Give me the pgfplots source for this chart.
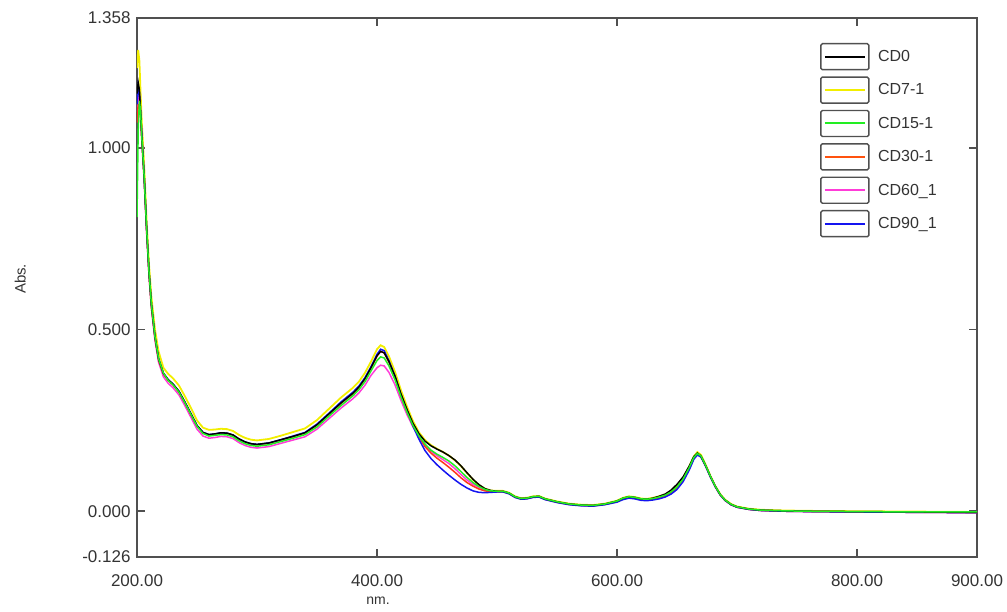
\documentclass[border=0pt]{standalone}
\usepackage{pgfplots}
\pgfplotsset{compat=1.18}
\usepackage{pgfplotstable}
\usepackage{fontspec}
\setmainfont{Liberation Sans}

\definecolor{axgray}{HTML}{505050}
\definecolor{cdyellow}{HTML}{F2EE00}
\definecolor{cdgreen}{HTML}{22EE22}
\definecolor{cdred}{HTML}{FF3418}
\definecolor{cdpink}{HTML}{FF3CD8}
\definecolor{cdblue}{HTML}{1414F0}

\pgfplotstableread{
nm cd0 cd7 cd15 cd30 cd60 cd90
200 1.15 1.22 0.81 1.07 1.10 1.12
201 1.18 1.27 1.05 1.12 1.14 1.17
202 1.16 1.24 1.13 1.12 1.13 1.15
203 1.10 1.15 1.10 1.08 1.09 1.10
204 1.03 1.07 1.03 1.02 1.03 1.04
206 0.92 0.95 0.92 0.91 0.92 0.92
208 0.78 0.80 0.78 0.77 0.77 0.78
210 0.66 0.68 0.66 0.65 0.65 0.66
212 0.57 0.59 0.57 0.56 0.56 0.57
215 0.48 0.50 0.48 0.475 0.47 0.48
218 0.42 0.44 0.42 0.415 0.41 0.42
222 0.38 0.395 0.38 0.378 0.37 0.38
226 0.362 0.378 0.36 0.36 0.352 0.362
230 0.35 0.366 0.348 0.348 0.34 0.35
235 0.33 0.346 0.328 0.328 0.32 0.33
240 0.30 0.316 0.298 0.298 0.29 0.30
245 0.268 0.284 0.266 0.266 0.258 0.268
250 0.236 0.25 0.234 0.235 0.226 0.236
255 0.217 0.23 0.214 0.216 0.207 0.217
260 0.211 0.224 0.207 0.21 0.201 0.211
265 0.213 0.225 0.209 0.212 0.203 0.213
270 0.216 0.227 0.211 0.215 0.206 0.216
275 0.215 0.226 0.21 0.214 0.205 0.215
280 0.21 0.221 0.205 0.209 0.2 0.21
285 0.199 0.21 0.194 0.198 0.189 0.199
290 0.191 0.202 0.186 0.19 0.181 0.191
295 0.186 0.197 0.181 0.185 0.176 0.186
300 0.184 0.195 0.179 0.183 0.174 0.184
310 0.188 0.199 0.183 0.187 0.178 0.188
320 0.197 0.208 0.192 0.196 0.187 0.197
330 0.206 0.218 0.201 0.205 0.196 0.207
340 0.216 0.228 0.211 0.215 0.205 0.217
350 0.238 0.251 0.232 0.237 0.226 0.24
360 0.268 0.282 0.262 0.267 0.255 0.27
370 0.298 0.313 0.291 0.297 0.284 0.301
380 0.325 0.34 0.318 0.324 0.31 0.328
385 0.342 0.357 0.335 0.341 0.326 0.345
390 0.365 0.381 0.357 0.364 0.347 0.368
395 0.395 0.412 0.386 0.394 0.374 0.398
400 0.428 0.446 0.415 0.427 0.395 0.432
403 0.44 0.457 0.425 0.44 0.402 0.446
406 0.436 0.452 0.422 0.436 0.4 0.442
410 0.412 0.426 0.4 0.41 0.382 0.414
415 0.372 0.384 0.362 0.368 0.348 0.372
420 0.323 0.333 0.315 0.318 0.305 0.32
425 0.28 0.288 0.273 0.275 0.266 0.276
430 0.242 0.248 0.236 0.236 0.232 0.234
435 0.213 0.217 0.207 0.205 0.205 0.198
440 0.193 0.196 0.185 0.178 0.182 0.167
445 0.18 0.182 0.168 0.16 0.165 0.145
450 0.171 0.172 0.157 0.146 0.153 0.128
455 0.163 0.163 0.148 0.134 0.142 0.113
460 0.153 0.153 0.138 0.121 0.131 0.099
465 0.141 0.14 0.125 0.107 0.117 0.086
470 0.125 0.124 0.109 0.092 0.101 0.074
475 0.106 0.105 0.093 0.079 0.086 0.064
480 0.088 0.087 0.079 0.069 0.074 0.056
485 0.073 0.072 0.068 0.061 0.065 0.052
490 0.062 0.062 0.06 0.056 0.058 0.051
495 0.057 0.057 0.056 0.054 0.055 0.052
500 0.055 0.056 0.055 0.054 0.054 0.053
505 0.055 0.056 0.055 0.054 0.054 0.053
510 0.05 0.051 0.05 0.049 0.049 0.048
515 0.04 0.041 0.04 0.039 0.039 0.038
520 0.035 0.036 0.035 0.034 0.034 0.033
525 0.036 0.037 0.036 0.035 0.035 0.034
530 0.04 0.041 0.04 0.039 0.039 0.038
535 0.041 0.042 0.041 0.04 0.04 0.039
540 0.034 0.035 0.034 0.033 0.033 0.032
550 0.026 0.027 0.026 0.025 0.025 0.024
560 0.02 0.021 0.02 0.019 0.019 0.018
570 0.017 0.018 0.017 0.016 0.016 0.015
580 0.016 0.017 0.016 0.015 0.015 0.014
590 0.02 0.021 0.02 0.019 0.019 0.018
600 0.028 0.029 0.028 0.027 0.027 0.025
605 0.036 0.037 0.036 0.034 0.034 0.032
610 0.04 0.041 0.04 0.038 0.038 0.036
615 0.038 0.039 0.038 0.036 0.036 0.034
620 0.034 0.035 0.034 0.032 0.032 0.03
625 0.033 0.034 0.033 0.031 0.031 0.029
630 0.036 0.037 0.035 0.033 0.033 0.031
635 0.041 0.041 0.039 0.037 0.037 0.034
640 0.047 0.046 0.044 0.042 0.042 0.039
645 0.058 0.056 0.053 0.05 0.05 0.047
650 0.074 0.071 0.067 0.064 0.064 0.06
655 0.094 0.092 0.088 0.085 0.085 0.081
660 0.123 0.122 0.119 0.116 0.116 0.112
664 0.15 0.151 0.148 0.146 0.146 0.143
667 0.16 0.163 0.159 0.157 0.157 0.155
670 0.152 0.155 0.152 0.15 0.15 0.149
674 0.125 0.127 0.125 0.124 0.124 0.123
678 0.095 0.096 0.095 0.094 0.094 0.093
682 0.068 0.069 0.068 0.067 0.067 0.067
686 0.046 0.047 0.046 0.045 0.045 0.045
690 0.031 0.032 0.031 0.03 0.03 0.03
695 0.019 0.02 0.019 0.018 0.018 0.018
700 0.012 0.013 0.012 0.011 0.011 0.011
710 0.006 0.007 0.006 0.005 0.005 0.005
720 0.003 0.004 0.003 0.002 0.002 0.002
740 0.001 0.002 0.001 0.0 0.0 0.0
760 0.0 0.001 0.0 -0.001 -0.001 -0.001
800 -0.001 0.0 -0.001 -0.002 -0.002 -0.002
850 -0.002 -0.001 -0.002 -0.003 -0.003 -0.003
900 -0.003 -0.002 -0.002 -0.004 -0.004 -0.004
}\datatable

\begin{document}
\begin{tikzpicture}
\useasboundingbox (-137pt,-55pt) rectangle (870pt,557pt);
\begin{axis}[
  scale only axis,
  width=840pt, height=539pt,
  xmin=200, xmax=900, ymin=-0.126, ymax=1.358,
  xtick={200,400,600,800,900},
  xticklabels={200.00,400.00,600.00,800.00,900.00},
  ytick={-0.126,0,0.5,1,1.358},
  yticklabels={-0.126,0.000,0.500,1.000,1.358},
  tick align=inside,
  major tick length=8pt,
  tick style={axgray, line width=1.6pt},
  axis line style={axgray, line width=2pt},
  tick label style={font=\fontsize{17}{20}\selectfont, text=black!80},
  xticklabel style={yshift=-14pt},
  yticklabel style={xshift=-3pt},
  xlabel={nm.},
  ylabel={Abs.},
  xlabel style={font=\fontsize{14}{17}\selectfont, text=black!80, at={(axis description cs:0.287,-0.082)}, anchor=center},
  ylabel style={font=\fontsize{15}{18}\selectfont, text=black!80, at={(axis description cs:-0.139,0.516)}, anchor=center, rotate=0},
  legend image code/.code={
    \draw[axgray, line width=1.4pt, rounded corners=1.5pt, fill=white, solid] (0pt,-13pt) rectangle (48pt,13pt);
    \draw[#1, line width=2pt] (4pt,0pt) -- (44pt,0pt);
    \path (55pt,0pt);
  },
  legend style={
    at={(rel axis cs:0.813,0.954)}, anchor=north west,
    draw=none, fill=none, inner sep=0pt,
    row sep=6pt,
    font=\fontsize{16}{19}\selectfont, text=black!80,
  },
  legend cell align=left,
]
\addlegendimage{black}
\addlegendentry{CD0}
\addlegendimage{cdyellow}
\addlegendentry{CD7-1}
\addlegendimage{cdgreen}
\addlegendentry{CD15-1}
\addlegendimage{cdred!60!orange}
\addlegendentry{CD30-1}
\addlegendimage{cdpink}
\addlegendentry{CD60\_1}
\addlegendimage{cdblue}
\addlegendentry{CD90\_1}

\addplot[cdyellow, line width=1.8pt, forget plot] table[x=nm, y=cd7] {\datatable};
\addplot[cdpink, line width=1.5pt, forget plot] table[x=nm, y=cd60] {\datatable};
\addplot[cdred, line width=1.5pt, forget plot] table[x=nm, y=cd30] {\datatable};
\addplot[cdblue, line width=1.5pt, forget plot] table[x=nm, y=cd90] {\datatable};
\addplot[black, line width=1.5pt, forget plot] table[x=nm, y=cd0] {\datatable};
\addplot[cdgreen, line width=1.5pt, forget plot] table[x=nm, y=cd15] {\datatable};
\end{axis}
\end{tikzpicture}
\end{document}
